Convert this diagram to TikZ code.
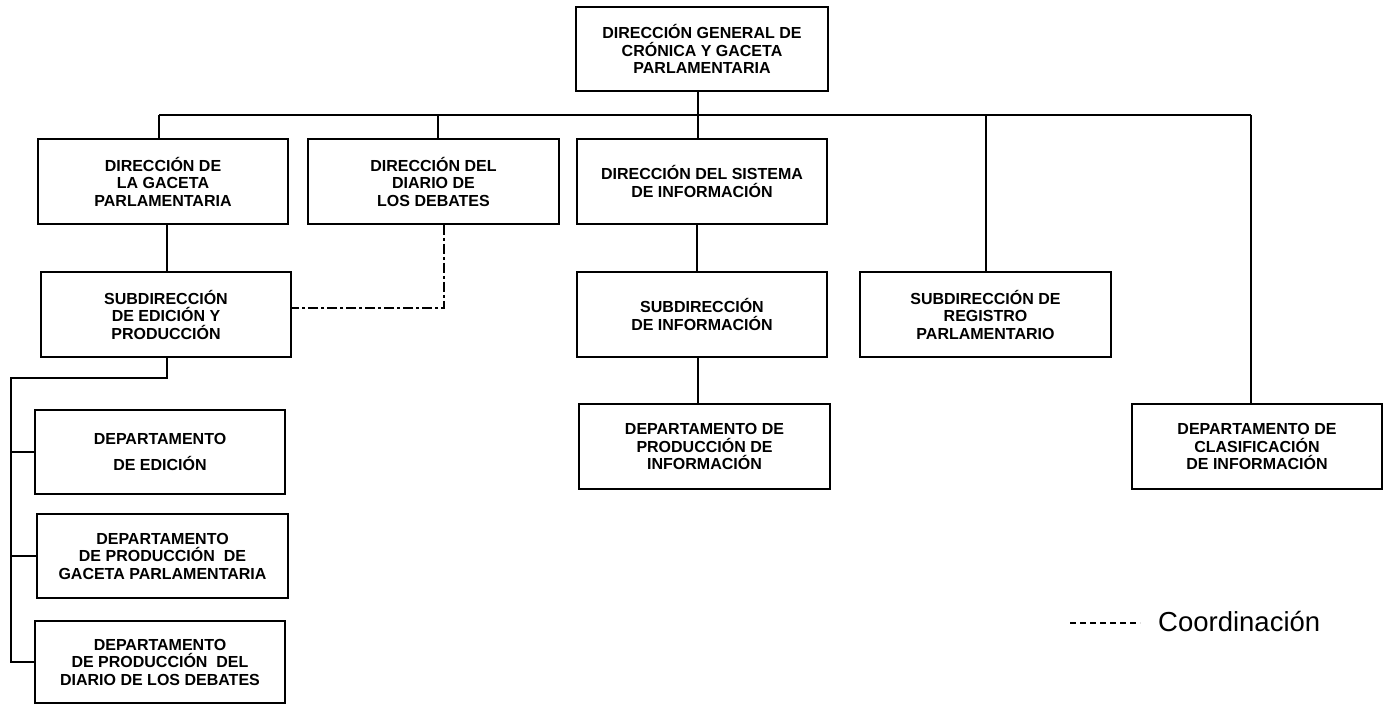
\documentclass[tikz,border=0pt]{standalone}
\usepackage{fontspec}
\setmainfont{Liberation Sans}
\begin{document}
\begin{tikzpicture}[x=1pt,y=-1pt,
  unit/.style={draw, line width=1.8pt, inner sep=0pt, align=center,
    font=\bfseries\fontsize{16}{17.5}\selectfont, minimum width=250pt, minimum height=85pt},
  link/.style={line width=1.6pt},
  coord/.style={line width=1.6pt, dash pattern=on 10pt off 3pt on 3pt off 3pt},
  legline/.style={line width=1.6pt, dash pattern=on 6pt off 4pt}]
\useasboundingbox (0,0) rectangle (1384,706);
% boxes
\node[unit, minimum width=252pt, minimum height=84pt] (top) at (702,49) {DIRECCIÓN GENERAL DE\\CRÓNICA Y GACETA\\PARLAMENTARIA};
\node[unit] (b1) at (163,181.5) {DIRECCIÓN DE\\LA GACETA\\PARLAMENTARIA};
\node[unit, minimum width=251pt] (b2) at (433.5,181.5) {DIRECCIÓN DEL\\DIARIO DE\\LOS DEBATES};
\node[unit] (b3) at (702,181.5) {DIRECCIÓN DEL SISTEMA\\DE INFORMACIÓN};
\node[unit] (s1) at (166,314.5) {SUBDIRECCIÓN\\DE EDICIÓN Y\\PRODUCCIÓN};
\node[unit] (s2) at (702,314.5) {SUBDIRECCIÓN\\DE INFORMACIÓN};
\node[unit, minimum width=251pt] (s3) at (985.5,314.5) {SUBDIRECCIÓN DE\\REGISTRO\\PARLAMENTARIO};
\node[unit, minimum height=84pt] (d1) at (160,452) {DEPARTAMENTO\\[8pt]DE EDICIÓN};
\node[unit, minimum width=251pt, minimum height=84pt] (d2) at (162.5,556) {DEPARTAMENTO\\DE PRODUCCIÓN \ DE\\GACETA PARLAMENTARIA};
\node[unit, minimum height=82pt] (d3) at (160,662) {DEPARTAMENTO\\DE PRODUCCIÓN \ DEL\\DIARIO DE LOS DEBATES};
\node[unit, minimum width=251pt] (d4) at (704.5,446.5) {DEPARTAMENTO DE\\PRODUCCIÓN DE\\INFORMACIÓN};
\node[unit] (d5) at (1257,446.5) {DEPARTAMENTO DE\\CLASIFICACIÓN\\DE INFORMACIÓN};
% junction coordinates
\coordinate (bus) at (698,115);
\coordinate (j1) at (159,115);
\coordinate (j2) at (438,115);
\coordinate (j4) at (986,115);
\coordinate (j5) at (1251,115);
\coordinate (m1) at (167,0);
\coordinate (m2) at (697,0);
\coordinate (lc) at (11,378);
\coordinate (dd) at (444,308);
% connectors
\draw[link] (top.south -| bus) -- (bus);
\draw[link] (j1) -- (j5);
\draw[link] (j1) -- (j1 |- b1.north);
\draw[link] (j2) -- (j2 |- b2.north);
\draw[link] (bus) -- (bus |- b3.north);
\draw[link] (j4) -- (j4 |- s3.north);
\draw[link] (j5) -- (j5 |- d5.north);
\draw[link] (b1.south -| m1) -- (m1 |- s1.north);
\draw[link] (b3.south -| m2) -- (m2 |- s2.north);
\draw[link] (s2.south -| bus) -- (bus |- d4.north);
\draw[link] (s1.south -| m1) |- (lc) |- (d3.west);
\draw[link] (d1.west) -- (d1.west -| lc);
\draw[link] (d2.west) -- (d2.west -| lc);
\draw[coord] (b2.south -| dd) -- (dd) -- (dd -| s1.east);
% legend
\coordinate (la) at (1070,623);
\coordinate (lb) at (1140,623);
\draw[legline] (la) -- (lb);
\node[anchor=west, inner sep=0pt, font=\fontsize{27.5}{30}\selectfont] (leg) at (1158,622) {Coordinación};
\end{tikzpicture}
\end{document}
